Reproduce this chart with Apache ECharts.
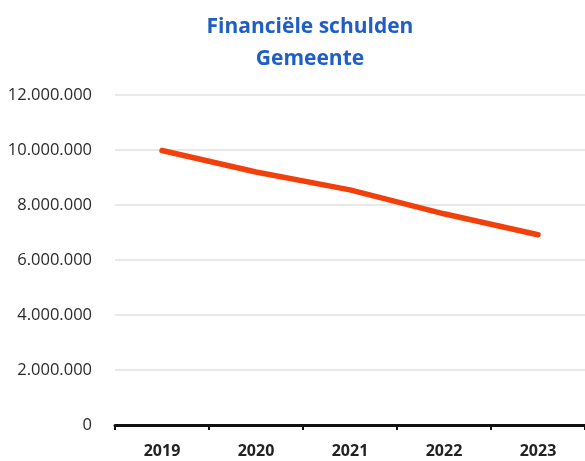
<!DOCTYPE html>
<html>
<head>
<meta charset="utf-8">
<script src="https://cdn.jsdelivr.net/npm/echarts@6/dist/echarts.min.js"></script>
<style>
  html, body { margin: 0; padding: 0; background: #fff; }
  #chart { width: 585px; height: 461px; }
</style>
</head>
<body>
<div id="chart"></div>
<script>
// Financiële schulden van de gemeente per jaar (in euro)
const years = ['2019', '2020', '2021', '2022', '2023'];
const schulden = [9980000, 9200000, 8550000, 7680000, 6920000];
const yTicks = [0, 2000000, 4000000, 6000000, 8000000, 10000000, 12000000];

function formatNL(v) {
  return String(v).replace(/\B(?=(\d{3})+(?!\d))/g, '.');
}

const chart = echarts.init(document.getElementById('chart'));
chart.setOption({
  animation: false,
  backgroundColor: '#ffffff',
  title: {
    text: 'Financiële schulden\nGemeente',
    left: 305,
    textAlign: 'center',
    top: 6,
    textStyle: {
      fontFamily: 'Open Sans',
      fontWeight: 'bold',
      fontSize: 21,
      lineHeight: 32,
      color: '#1f5fc4'
    }
  },
  grid: { left: 115, right: 0, top: 95, bottom: 36 },
  xAxis: {
    type: 'category',
    data: years,
    boundaryGap: true,
    axisLine: { lineStyle: { color: '#111', width: 3 } },
    axisTick: { show: true, length: 5, lineStyle: { color: '#111', width: 2 } },
    axisLabel: {
      margin: 18,
      fontFamily: 'Open Sans',
      fontWeight: 'bold',
      fontSize: 16,
      color: '#222'
    },
    splitLine: { show: false }
  },
  yAxis: {
    type: 'value',
    min: yTicks[0],
    max: yTicks[yTicks.length - 1],
    interval: 2000000,
    axisLine: { show: false },
    axisTick: { show: false },
    axisLabel: {
      margin: 23,
      fontFamily: 'Open Sans',
      fontSize: 16.5,
      color: '#2a2a2a',
      formatter: formatNL
    },
    splitLine: { lineStyle: { color: '#e2e2e2', width: 1.5 } }
  },
  series: [{
    type: 'line',
    data: schulden,
    showSymbol: false,
    smooth: false,
    lineStyle: { color: '#f2400c', width: 5.5, cap: 'round', join: 'round' },
    z: 5
  }]
});
</script>
</body>
</html>
